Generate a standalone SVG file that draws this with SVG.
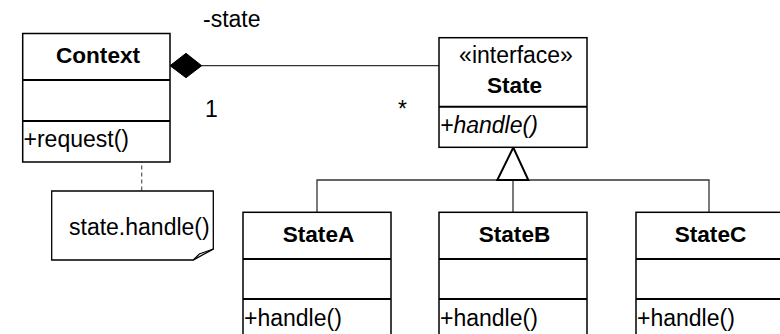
<svg xmlns="http://www.w3.org/2000/svg" width="780" height="334" viewBox="0 0 780 334">
  <style>
    text { font-family: "Liberation Sans", Arial, Helvetica, sans-serif; font-size: 23px; fill: #000; }
    .name { font-weight: bold; text-anchor: middle; font-size: 22.6px; }
    .ster { text-anchor: middle; }
    .abs { font-style: italic; }
    .box { fill: #fff; stroke: #000; stroke-width: 1.5; }
    .div { stroke: #000; stroke-width: 2; }
    .link { fill: none; stroke: #333; stroke-width: 1.3; }
    .dash { fill: none; stroke: #555; stroke-width: 1.2; stroke-dasharray: 4 3; }
  </style>

  <!-- connectors -->
  <g id="connectors">
    <!-- composition Context -> State -->
    <line class="link" x1="201" y1="65.7" x2="439" y2="65.7"/>
    <polygon points="170,65.7 186,53.3 201.7,65.7 186,77.7" fill="#000" stroke="#000" stroke-width="1"/>
    <text x="203" y="27">-state</text>
    <text x="205" y="117">1</text>
    <text x="398" y="117">*</text>
    <!-- realization tree -->
    <polyline class="link" points="317,212 317,180 709,180 709,212"/>
    <line class="link" x1="513" y1="180" x2="513" y2="212"/>
    <polygon points="513.3,147.5 497.3,180 528.3,180" fill="#fff" stroke="#000" stroke-width="2"/>
    <!-- note attachment -->
    <line class="dash" x1="141.7" y1="137.5" x2="141.7" y2="191"/>
  </g>

  <g id="context">
    <rect class="box" x="22.7" y="33.5" width="147.3" height="128.5"/>
    <line class="div" x1="22.7" y1="80" x2="170" y2="80"/>
    <line class="div" x1="22.7" y1="121" x2="170" y2="121"/>
    <text class="name" x="98" y="63.3">Context</text>
    <text x="23.5" y="147">+request()</text>
  </g>

  <g id="state">
    <rect class="box" x="439" y="37.7" width="148" height="109.6"/>
    <line class="div" x1="439" y1="106.7" x2="587" y2="106.7"/>
    <text class="ster" x="516" y="63.3">«interface»</text>
    <text class="name" x="514.5" y="93.3">State</text>
    <text class="abs" x="440" y="133">+handle()</text>
  </g>

  <g id="note">
    <polygon points="51.7,191 213.3,191 213.3,249 193.3,260 51.7,260" fill="#fff" stroke="#000" stroke-width="1.3"/>
    <polyline points="193.3,260 199.3,254 213.3,249" fill="none" stroke="#000" stroke-width="1.2"/>
    <text x="69" y="235">state.handle()</text>
  </g>

  <g id="stateA">
    <rect class="box" x="243" y="212.3" width="148" height="130"/>
    <line class="div" x1="243" y1="259" x2="391" y2="259"/>
    <line class="div" x1="243" y1="299" x2="391" y2="299"/>
    <text class="name" x="318.5" y="242">StateA</text>
    <text x="244" y="326">+handle()</text>
  </g>

  <g id="stateB">
    <rect class="box" x="439" y="212.3" width="148" height="130"/>
    <line class="div" x1="439" y1="259" x2="587" y2="259"/>
    <line class="div" x1="439" y1="299" x2="587" y2="299"/>
    <text class="name" x="514.5" y="242">StateB</text>
    <text x="440" y="326">+handle()</text>
  </g>

  <g id="stateC">
    <rect class="box" x="636" y="212.3" width="148" height="130"/>
    <line class="div" x1="636" y1="259" x2="784" y2="259"/>
    <line class="div" x1="636" y1="299" x2="784" y2="299"/>
    <text class="name" x="710.5" y="242">StateC</text>
    <text x="637" y="326">+handle()</text>
  </g>
</svg>
